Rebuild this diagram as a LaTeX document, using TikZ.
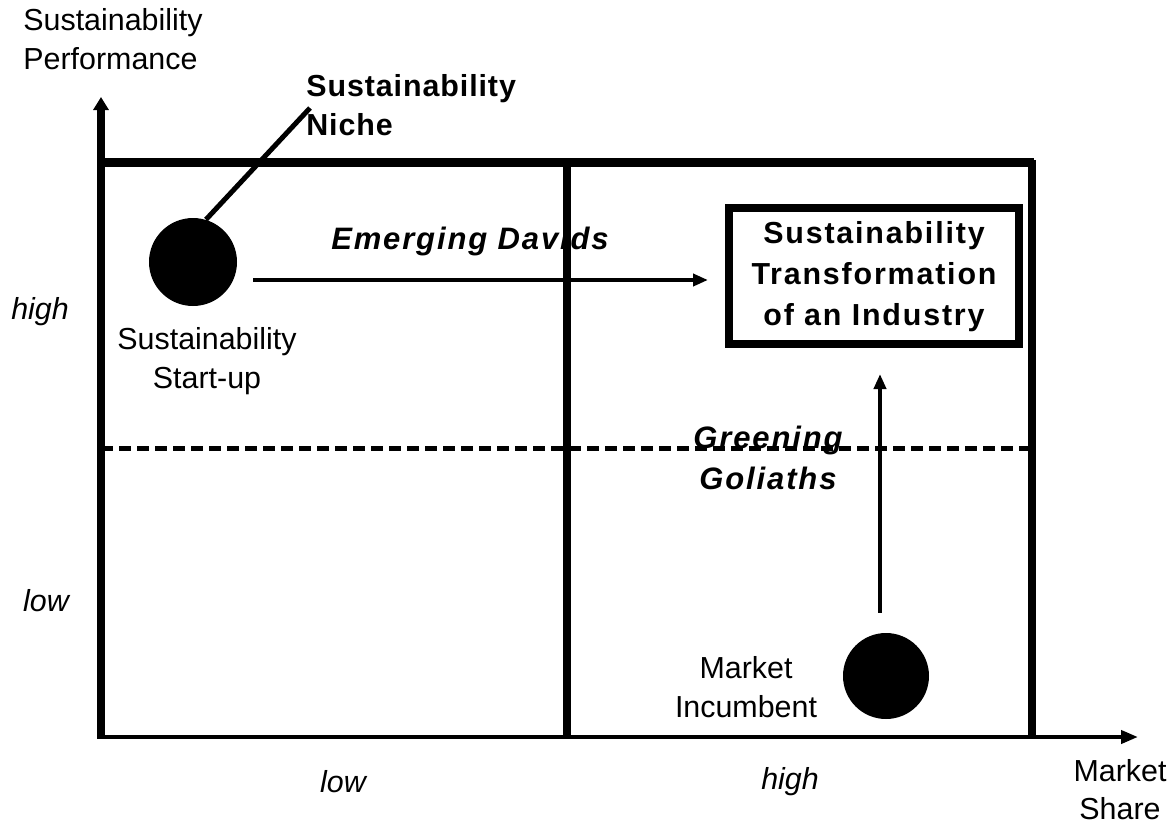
\documentclass[tikz,border=0pt]{standalone}
\usepackage{fontspec}
\setmainfont{Liberation Sans}
\newfontfamily\spc{Liberation Sans}[LetterSpace=6]
\newfontfamily\spcn{Liberation Sans}[LetterSpace=3]
\usetikzlibrary{arrows.meta,calc}
\begin{document}
\begin{tikzpicture}[x=0.5pt,y=-0.5pt,
  lab/.style={font=\fontsize{15.2}{19.5}\selectfont, align=center, inner sep=0},
  labi/.style={lab, font=\fontsize{15.2}{19.5}\selectfont\itshape},
  bl/.style={font=\spc\bfseries\fontsize{15.2}{20}\selectfont, align=center, inner sep=0},
  bln/.style={font=\spcn\bfseries\fontsize{15.2}{19.5}\selectfont, align=left, inner sep=0},
  bli/.style={font=\spc\bfseries\itshape\fontsize{15.5}{20.5}\selectfont, align=center, inner sep=0},
  arr/.style={line width=2pt, -{Triangle[length=7.5pt,width=6pt]}},
  dot/.style={circle, fill=black, inner sep=0, minimum size=44pt}]
\useasboundingbox (0,0) rectangle (1174,826);
% frame coordinates
\coordinate (O) at (101,737);
\coordinate (Ox) at (97,737);
\coordinate (ytip) at (101,97);
\coordinate (xtip) at (1138,737);
\coordinate (TL) at (99,162);
\coordinate (TR) at (1034,162);
\coordinate (RT) at (1032,160);
\coordinate (RB) at (1032,737);
\coordinate (MT) at (567,162);
\coordinate (MB) at (567,737);
\coordinate (DL) at (101,448);
\coordinate (DR) at (1032,448);
% lines
\draw[line width=4.5pt] (TL) -- (TR);
\draw[line width=4pt] (RT) -- (RB);
\draw[line width=4pt] (MT) -- (MB);
\draw[line width=2.5pt, dash pattern=on 6pt off 3pt] (DL) -- (DR);
\draw[line width=2pt, -{Triangle[length=8.5pt,width=6.5pt]}] (Ox) -- (xtip);
\draw[line width=4pt, -{Triangle[length=6.5pt,width=7.5pt]}] (O) -- (ytip);
% axis labels
\node[lab, align=left, anchor=west] (yl) at (23,39) {Sustainability\\Performance};
\node[lab, font=\fontsize{15.2}{19}\selectfont] (xl) at (1120,790) {Market\\Share};
\node[labi] (yh) at (40,312) {high};
\node[labi] (ylo) at (46,601) {low};
\node[labi] (xlo) at (343,782) {low};
\node[labi] (xh) at (790,782) {high};
% circles
\node[dot] (startup) at (193,262) {};
\node[dot, minimum size=43pt] (incumbent) at (886,676) {};
\node[lab] (stlab) at (207,361) {Sustainability\\Start-up};
\node[lab] (inlab) at (746,687) {Market\\Incumbent};
% niche
\coordinate (nicheend) at (310,108);
\draw[line width=2.5pt] (startup.73) -- (nicheend);
\node[bln, anchor=west] (niche) at (306,105) {Sustainability\\Niche};
% target box
\node[draw, line width=4pt, minimum width=145pt, minimum height=68pt, bl] (box) at (874,276) {\raisebox{-2pt}{\begin{tabular}{@{}c@{}}Sustainability\\[0.5pt]Transformation\\[0.5pt]of an Industry\end{tabular}}};
% emerging davids
\coordinate (ea) at (253,280);
\draw[arr, shorten >=8.5pt] (ea) -- (ea -| box.west);
\node[bli] (davids) at (470,241) {Emerging Davids};
% greening goliaths
\draw[arr, shorten >=13pt] ($(incumbent.north)+(-6,-20)$) -- ($(incumbent.north |- box.south)+(-6,0)$);
\node[bli] (goliaths) at (768,458) {Greening\\Goliaths};
\end{tikzpicture}
\end{document}
